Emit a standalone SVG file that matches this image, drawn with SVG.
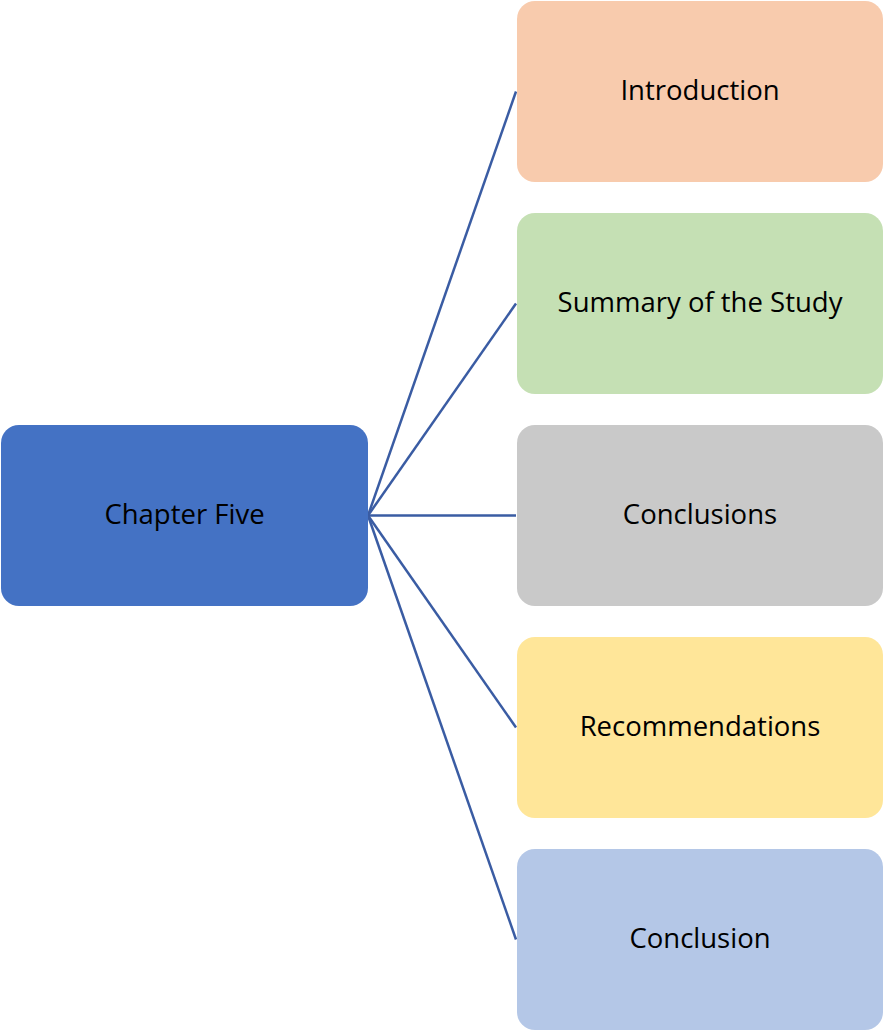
<svg xmlns="http://www.w3.org/2000/svg" width="885" height="1033" viewBox="0 0 885 1033">
  <style>
    .box { stroke: none; }
    .label { font-family: "Open Sans", "Noto Sans", "Liberation Sans", sans-serif; font-size: 27.5px; font-weight: 500; fill: #000; text-anchor: middle; dominant-baseline: central; }
    .link { stroke: #3A5CA3; stroke-width: 2.5; fill: none; }
  </style>
  <rect width="885" height="1033" fill="#fff"/>
  <g id="connectors">
    <line class="link" x1="368" y1="515.5" x2="516" y2="91.5"/>
    <line class="link" x1="368" y1="515.5" x2="516" y2="303.5"/>
    <line class="link" x1="368" y1="515.5" x2="516" y2="515.5"/>
    <line class="link" x1="368" y1="515.5" x2="516" y2="727.5"/>
    <line class="link" x1="368" y1="515.5" x2="516" y2="939.5"/>
  </g>
  <g id="chapter-five">
    <rect class="box" x="1" y="425" width="367" height="181" rx="18" fill="#4472C4"/>
    <text class="label" x="184.5" y="513.5">Chapter Five</text>
  </g>
  <g id="introduction">
    <rect class="box" x="517" y="1" width="366" height="181" rx="18" fill="#F8CBAD"/>
    <text class="label" x="700" y="89.5">Introduction</text>
  </g>
  <g id="summary">
    <rect class="box" x="517" y="213" width="366" height="181" rx="18" fill="#C5E0B4"/>
    <text class="label" x="700" y="301.5">Summary of the Study</text>
  </g>
  <g id="conclusions">
    <rect class="box" x="517" y="425" width="366" height="181" rx="18" fill="#C9C9C9"/>
    <text class="label" x="700" y="513.5">Conclusions</text>
  </g>
  <g id="recommendations">
    <rect class="box" x="517" y="637" width="366" height="181" rx="18" fill="#FFE699"/>
    <text class="label" x="700" y="725.5">Recommendations</text>
  </g>
  <g id="conclusion">
    <rect class="box" x="517" y="849" width="366" height="181" rx="18" fill="#B4C7E7"/>
    <text class="label" x="700" y="937.5">Conclusion</text>
  </g>
</svg>
